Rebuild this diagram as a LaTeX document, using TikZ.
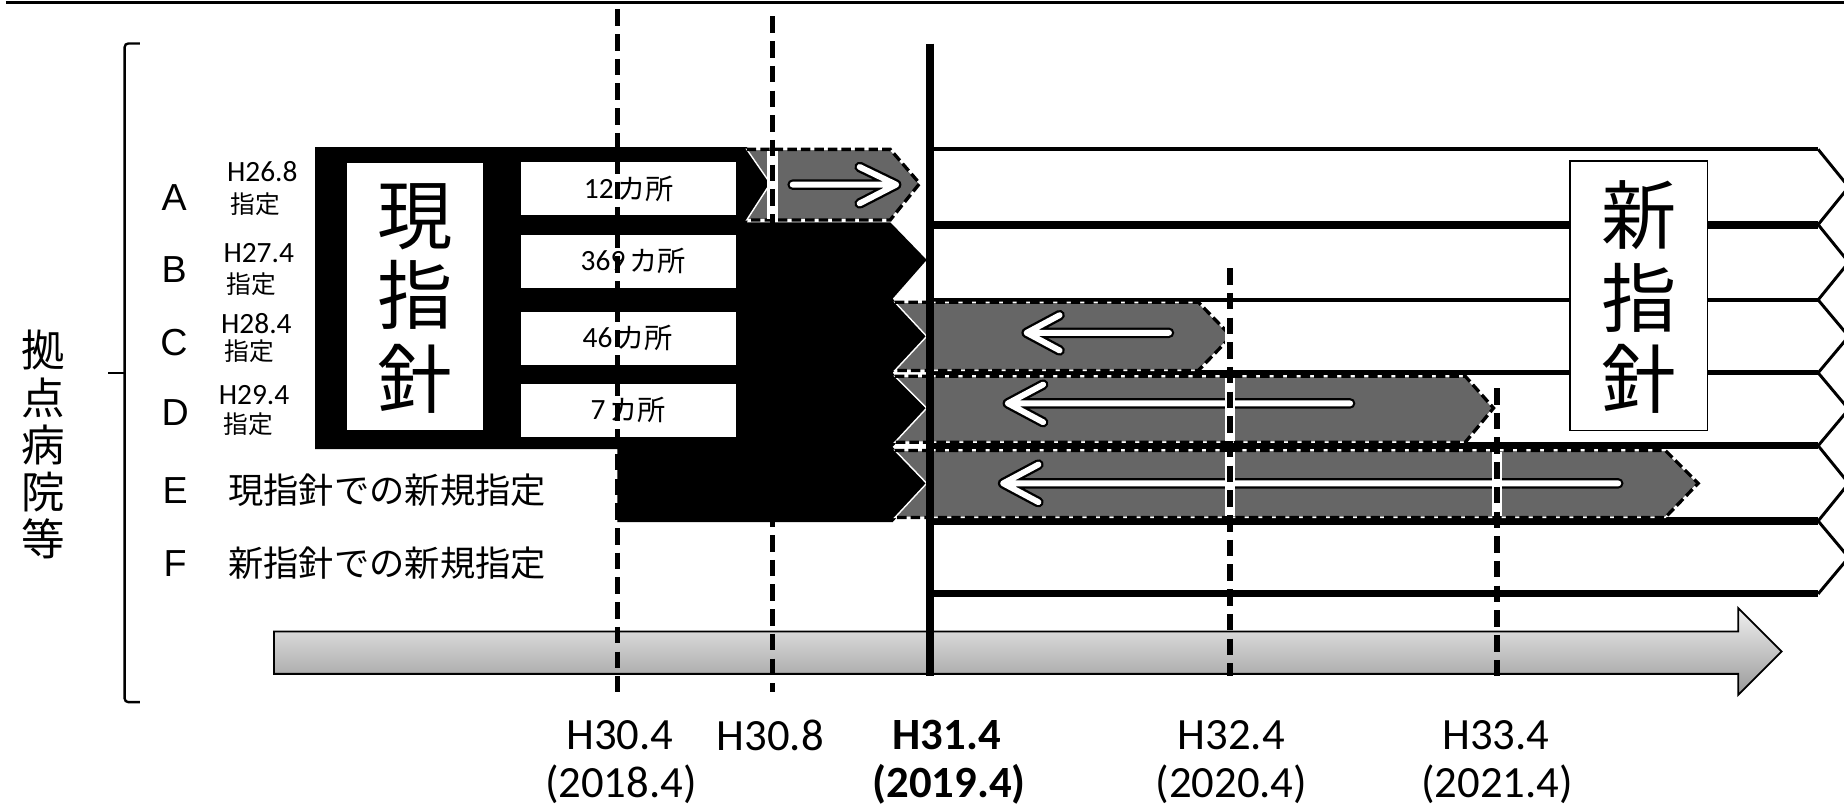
\documentclass[tikz,border=0pt]{standalone}
\usepackage{fontspec}
\setmainfont{Carlito}
\newfontfamily\jp{Noto Sans CJK JP}
\newfontfamily\arialf{Liberation Sans}
\begin{document}
\begin{tikzpicture}[x=1pt,y=-1pt]
\tikzset{
  rowletter/.style={font=\arialf\fontsize{32}{32}\selectfont, inner sep=0pt},
  smallh/.style={font=\fontsize{25}{25}\selectfont, inner sep=0pt},
  smallj/.style={font=\jp\fontsize{21}{21}\selectfont, inner sep=0pt},
  rowtext/.style={font=\jp\fontsize{30}{30}\selectfont, inner sep=0pt, anchor=west},
  bigchar/.style={font=\jp\fontsize{64}{64}\selectfont, inner sep=0pt},
  sidechar/.style={font=\jp\fontsize{37}{37}\selectfont, inner sep=0pt},
  countbox/.style={fill=white, minimum width=183pt, minimum height=45pt, inner sep=0pt},
  cnum/.style={font=\fontsize{25}{25}\selectfont, inner sep=0pt, anchor=east},
  cjp/.style={font=\jp\fontsize{24}{24}\selectfont, inner sep=0pt, anchor=west},
  datelbl/.style={font=\fontsize{38}{38}\selectfont, inner sep=0pt},
  garrow/.style={fill=black!60, draw=white, line width=1.2pt},
  gdash/.style={draw=black, line width=2.8pt, dash pattern=on 8pt off 3.5pt},
  inB/.style={draw=black, line width=9pt, line cap=round, line join=round},
  inW/.style={draw=white, line width=5pt, line cap=round, line join=round},
  vdash/.style={draw=black, line width=4.5pt, dash pattern=on 14pt off 7pt},
  vwhite/.style={draw=white, line width=9pt},
}
\useasboundingbox (0,0) rectangle (1568,685);

% top frame line
\draw[line width=2.5pt] (5,2) -- (1568,2);

% bracket
\draw[line width=2pt, rounded corners=3pt] (119,37) -- (106,37) -- (106,597) -- (119,597);
\draw[line width=2pt] (106,317) -- (92,317);

% side label
\node[sidechar] (s1) at (37,298) {拠};
\node[sidechar] (s2) at (37,338) {点};
\node[sidechar] (s3) at (37,378) {病};
\node[sidechar] (s4) at (37,418) {院};
\node[sidechar] (s5) at (37,458) {等};

% row letters
\node[rowletter] (lA) at (148,168) {A};
\node[rowletter] (lB) at (148,229) {B};
\node[rowletter] (lC) at (148,291) {C};
\node[rowletter] (lD) at (149,351) {D};
\node[rowletter] (lE) at (149,417) {E};
\node[rowletter] (lF) at (149,479) {F};

% designation dates
\node[smallh] (hA) at (223,146) {H26.8};
\node[smallj] (jA) at (217,174) {指定};
\node[smallh] (hB) at (220,215) {H27.4};
\node[smallj] (jB) at (214,242) {指定};
\node[smallh] (hC) at (218,275) {H28.4};
\node[smallj] (jC) at (212,299) {指定};
\node[smallh] (hD) at (216,336) {H29.4};
\node[smallj] (jD) at (211,361) {指定};

\node[rowtext] (tE) at (194,417) {現指針での新規指定};
\node[rowtext] (tF) at (194,479) {新指針での新規指定};

% new guideline rows
\foreach \y/\w in {127/3.2,191/7,255/4,317/4,379/5.5,443/7,505/6}
  \draw[line width=\w pt] (791,\y) -- (1546,\y);
\draw[line width=2.5pt, line join=miter] (1546,127) -- (1572,159) -- (1546,191) -- (1572,223) -- (1546,255) -- (1572,286) -- (1546,317) -- (1572,348) -- (1546,379) -- (1572,411) -- (1546,443) -- (1572,474) -- (1546,505);

\node[draw=black, line width=1.5pt, fill=white, minimum width=117pt, minimum height=229pt, inner sep=0pt] (newbox) at (1393.5,251.5) {};
\node[bigchar] (n1) at (1393.5,183) {新};
\node[bigchar] (n2) at (1393.5,253) {指};
\node[bigchar] (n3) at (1393.5,322) {針};

% timeline arrow
\draw[line width=1.5pt, top color=black!6, bottom color=black!40]
  (233,537) -- (1478,537) -- (1478,517) -- (1515,554) -- (1478,591) -- (1478,573) -- (233,573) -- cycle;

% current guideline black block
\fill[black] (268,125) -- (635,125) -- (655,156) -- (635,189) -- (757,189) -- (788,221) -- (759,254)
  -- (788,286) -- (759,317) -- (788,348) -- (759,380) -- (788,412) -- (759,444)
  -- (525,444) -- (525,382) -- (268,382) -- cycle;

\node[fill=white, minimum width=116pt, minimum height=227pt, inner sep=0pt] (curbox) at (353,252.5) {};
\node[bigchar] (c1) at (353,184) {現};
\node[bigchar] (c2) at (353,251) {指};
\node[bigchar] (c3) at (353,322) {針};

\node[countbox] (kA) at (534.5,160.5) {};
\node[countbox] (kB) at (534.5,222) {};
\node[countbox] (kC) at (534.5,287.5) {};
\node[countbox] (kD) at (534.5,349) {};
\node[cnum] (kAn) at (522,160.5) {12};
\node[cjp] (kAj) at (525,160.5) {カ所};
\node[cnum] (kBn) at (532,222) {369};
\node[cjp] (kBj) at (535,222) {カ所};
\node[cnum] (kCn) at (521,287.5) {46};
\node[cjp] (kCj) at (524,287.5) {カ所};
\node[cnum] (kDn) at (515,349) {7};
\node[cjp] (kDj) at (518,349) {カ所};

% grey transition arrows
\path[garrow] (635,127) -- (757,127) -- (782,156) -- (757,187) -- (635,187) -- (655,156) -- cycle;
\path[gdash] (635,127) -- (757,127) -- (782,156) -- (757,187) -- (635,187);
\path[garrow] (761,257) -- (1019,257) -- (1047,286) -- (1019,315) -- (761,315) -- (788,286) -- cycle;
\path[gdash] (761,257) -- (1019,257) -- (1047,286) -- (1019,315) -- (761,315);
\path[garrow] (761,320) -- (1246,320) -- (1270,347) -- (1246,376) -- (761,376) -- (788,347) -- cycle;
\path[gdash] (761,320) -- (1246,320) -- (1270,347) -- (1246,376) -- (761,376);
\path[garrow] (761,383) -- (1416,383) -- (1444,411) -- (1416,440) -- (761,440) -- (788,411) -- cycle;
\path[gdash] (761,383) -- (1416,383) -- (1444,411) -- (1416,440) -- (761,440);

% inner arrows
\path[inB] (674,157) -- (762,157) (731,142) -- (762,157) -- (731,173);
\path[inW] (674,157) -- (762,157) (731,142) -- (762,157) -- (731,173);
\path[inB] (994,283) -- (873,283) (901,268) -- (873,283) -- (901,298);
\path[inW] (994,283) -- (873,283) (901,268) -- (873,283) -- (901,298);
\path[inB] (1148,343) -- (857,343) (887,327) -- (857,343) -- (887,359);
\path[inW] (1148,343) -- (857,343) (887,327) -- (857,343) -- (887,359);
\path[inB] (1376,411) -- (853,411) (883,395) -- (853,411) -- (883,427);
\path[inW] (1376,411) -- (853,411) (883,395) -- (853,411) -- (883,427);

% time lines
\coordinate (v1t) at (525,8);   \coordinate (v1b) at (525,588);
\coordinate (v2t) at (657,14);  \coordinate (v2b) at (657,588);
\coordinate (v3t) at (791,37);  \coordinate (v3b) at (791,575);
\coordinate (v4t) at (1046,228); \coordinate (v4b) at (1046,575);
\coordinate (v5t) at (1273,330); \coordinate (v5b) at (1273,575);
\draw[vwhite] (657,128) -- (657,186);
\draw[vwhite] (1046,258) -- (1046,314);
\draw[vwhite] (1046,321) -- (1046,375);
\draw[vwhite] (1046,384) -- (1046,439);
\draw[vwhite] (1273,384) -- (1273,439);
\draw[vdash] (v1t) -- (v1b);
\draw[vdash] (v2t) -- (v2b);
\draw[vdash] (v4t) -- (v4b);
\draw[vdash] (v5t) -- (v5b);
\draw[line width=6.5pt] (v3t) -- (v3b);

% date labels
\node[datelbl] (d1) at (527,625) {H30.4};
\node[datelbl] (d1y) at (528,667) {(2018.4)};
\node[datelbl] (d2) at (655,625) {H30.8};
\node[datelbl, font=\bfseries\fontsize{38}{38}\selectfont] (d3) at (805,625) {H31.4};
\node[datelbl, font=\bfseries\fontsize{38}{38}\selectfont] (d3y) at (807,667) {(2019.4)};
\node[datelbl] (d4) at (1047,625) {H32.4};
\node[datelbl] (d4y) at (1047,667) {(2020.4)};
\node[datelbl] (d5) at (1272,625) {H33.4};
\node[datelbl] (d5y) at (1273,667) {(2021.4)};
\end{tikzpicture}
\end{document}
